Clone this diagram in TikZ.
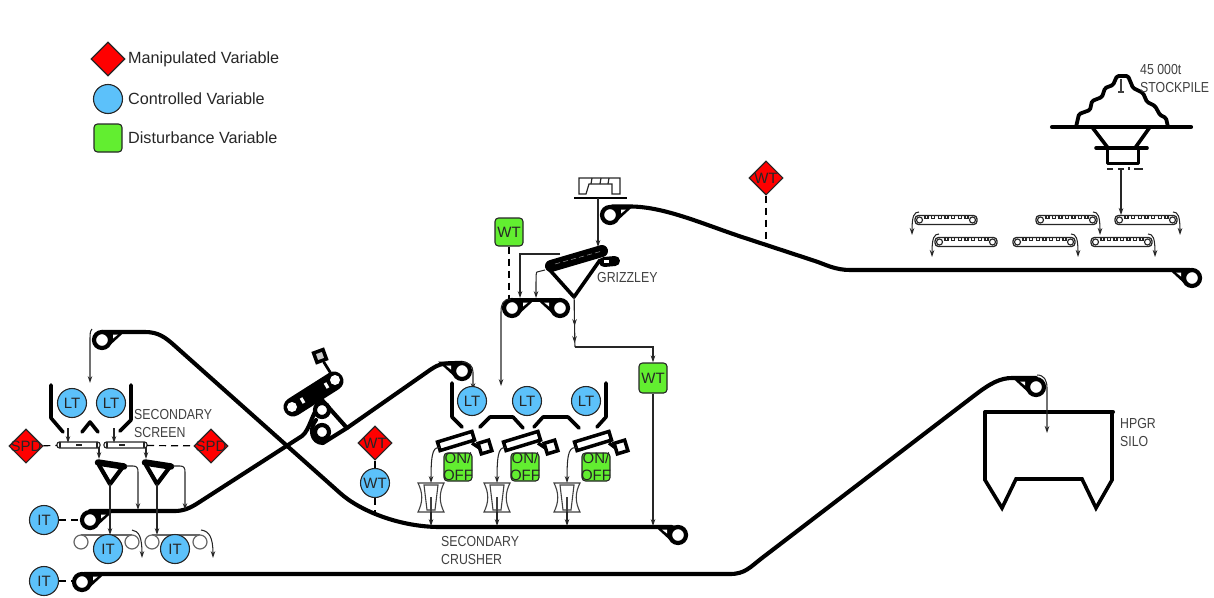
\documentclass[tikz,border=0pt]{standalone}
\usepackage{fontspec}
\setmainfont{Liberation Sans}
\newfontfamily\isofont[FakeStretch=0.85]{Liberation Sans}
\usetikzlibrary{shapes.geometric,arrows.meta,calc}
\definecolor{mvred}{HTML}{FF0000}
\definecolor{cvblue}{HTML}{5CC1FA}
\definecolor{dvgreen}{HTML}{62EE30}
\definecolor{isogray}{HTML}{404040}
\newcommand\dtext[1]{\makebox[0pt]{\raisebox{-0.36em}[0pt][0pt]{#1}}}
\tikzset{
  x=1pt,y=-1pt,
  base/.style={draw=black!85,line width=1.1pt,inner sep=0pt,font=\fontsize{15}{17}\selectfont,text=black!85},
  mvnode/.style={base,diamond,fill=mvred,minimum width=34pt,minimum height=34pt},
  cvnode/.style={base,circle,fill=cvblue,minimum size=29pt},
  dvnode/.style={base,rectangle,rounded corners=3.5pt,fill=dvgreen,minimum width=28pt,minimum height=28pt,align=center,inner ysep=-3.5pt,inner xsep=-2pt},
  legendtext/.style={inner sep=0pt,anchor=west,font=\fontsize{16.2}{17}\selectfont,text=black!85},
  isotext/.style={inner sep=0pt,anchor=west,align=left,font=\isofont\fontsize{14.5}{18}\selectfont,text=isogray},
  belt/.style={line width=4.1pt,line cap=round,line join=round,draw=black},
  chute/.style={line width=3.6pt,line cap=round,line join=round,draw=black},
  flow/.style={line width=1.05pt,draw=black!85,-{Stealth[length=7pt,width=4.6pt]}},
  plainflow/.style={line width=1.05pt,draw=black!85},
  signal/.style={line width=1.2pt,draw=black,dash pattern=on 7pt off 5pt},
  pulleynode/.style={circle,draw=black,fill=white,line width=4.2pt,minimum size=16pt,inner sep=0pt},
  thin outline/.style={line width=1.15pt,draw=black!85},
}
% name, x, y, direction of the tail
\newcommand\pulley[4]{%
  \fill[black] (#2,#3-9.5) -- (#2+#4*24,#3-9.5) -- (#2+#4*5,#3+8) -- cycle;
  \fill[white] (#2+#4*11,#3-5.5) -- (#2+#4*16,#3-5.5) -- (#2+#4*11,#3-1.5) -- cycle;
  \node[pulleynode] (#1) at (#2,#3) {};
}
% name, x1, x2, y, head side (+1 right, -1 left)
\newcommand\smallbelt[5]{%
  \draw[thin outline,rounded corners=3.5pt,line width=1.3pt] (#2,#4-4.5) rectangle (#3,#4+4.5);
  \foreach \k in {0,...,6} {
    \draw[thin outline,line width=1.2pt] ({#2+10+\k*(#3-#2-22)/6},#4-4.5) -- ++(0,3) -- ++(3,0) -- ++(0,-3);
  }
  \draw[thin outline,fill=white] (#2+4.5,#4) circle (3);
  \draw[thin outline,fill=white] (#3-4.5,#4) circle (3);
  \ifnum#5>0
    \coordinate (#1) at (#3+3,#4+15);
    \draw[flow] (#3-4,#4-8) .. controls (#3+1,#4-8) and (#3+3,#4-4) .. (#1);
  \else
    \coordinate (#1) at (#2-3,#4+15);
    \draw[flow] (#2+4,#4-8) .. controls (#2-1,#4-8) and (#2-3,#4-4) .. (#1);
  \fi
}
% x of feeder centre, feeder box centre, crusher centre
\newcommand\feeder[3]{%
  \node[draw=black,line width=3.5pt,fill=white,minimum width=36pt,minimum height=9pt,inner sep=0pt,rotate=17] at (#1,441) {};
  \draw[black,line width=3.5pt] (#1+16,443) -- (#2-4,449);
  \node[draw=black,line width=3.5pt,fill=white,minimum size=11pt,inner sep=0pt,rotate=17] at (#2,447) {};
  \draw[flow] (#1-16,447) .. controls (#3+3,448) and (#3,449) .. (#3,483);
  \draw[line width=1.1pt,draw=black!75] (#3-13,483) -- (#3+13,483) .. controls (#3+8,493) and (#3+8,502) .. (#3+13,512) -- (#3-13,512) .. controls (#3-8,502) and (#3-8,493) .. (#3-13,483) -- cycle;
  \draw[line width=1.1pt,draw=black!75] (#3-7,485) -- (#3+7,485) -- (#3+4,510) -- (#3-4,510) -- cycle;
  \draw[line width=1.1pt,draw=black!75] (#3,497) -- (#3,512);
  \draw[flow] (#3,512) -- (#3,526);
}
\begin{document}
\begin{tikzpicture}
\useasboundingbox (0,0) rectangle (1214,597);

% ---- belts
\draw[belt] (612,206.5) -- (630,206.5) .. controls (665,206.5) and (705,225) .. (745,238) -- (815,261) .. controls (825,264.3) and (835,270) .. (850,270) -- (1190,270);
\draw[belt] (102,332) -- (145,332) .. controls (158,332) and (165,337) .. (175,346) -- (340,493) .. controls (360,511) and (400,527) .. (440,527) -- (672,527);
\draw[belt] (90,511) -- (175,511) .. controls (183,511) and (190,508.2) .. (198,503) -- (302,436) .. controls (310,430) and (312,412) .. (322,401);
\draw[belt] (322,400) -- (347,428) -- (323,443) .. controls (311,443) and (309,428) .. (316,420);
\draw[belt] (347,428) -- (430,370) .. controls (440,363) and (445,363) .. (462,363);
\draw[belt] (84,574) -- (730,574) .. controls (745,574) and (750,567.2) .. (762,558) -- (975,395) .. controls (990,383.5) and (1000,378) .. (1012,378) -- (1036,378);
\draw[belt] (512,300) -- (560,300);

% ---- pulleys
\pulley{headtop}{610}{215}{1}
\pulley{tailtop}{1192}{278}{-1}
\pulley{headsec}{102}{340}{1}
\pulley{tailsec}{678}{535}{-1}
\pulley{headscr}{90}{520}{1}
\pulley{headlow}{82}{582}{1}
\pulley{tailsilo}{1036}{387}{-1}
\pulley{crushhead}{462}{371}{-1}
\pulley{griza}{512}{308}{1}
\pulley{grizb}{560}{308}{-1}
\node[pulleynode,minimum size=14pt] (trippera) at (322,410) {};
\node[pulleynode,minimum size=14pt] (tripperb) at (322,432) {};

% ---- tripper car
\draw[black,line width=19pt,line cap=round] (293,407) -- (334,381);
\node[circle,fill=white,minimum size=10pt,inner sep=0pt] (carA) at (292,407) {};
\node[circle,fill=white,minimum size=10pt,inner sep=0pt] (carB) at (335,380) {};
\draw[white,line width=3pt] (301,398) -- (304,403);
\draw[white,line width=3pt] (325,383) -- (328,388);
\node[draw=black,line width=3.5pt,fill=white!80!black,minimum size=10pt,inner sep=0pt,rotate=20] (carbox) at (320,356) {};
\draw[black,line width=2.8pt] (carbox) -- (carB);

% ---- stockpile
\draw[belt] (1052,127) -- (1191,127);
\draw[chute,line width=3.8pt,rounded corners=1.5pt] (1076,127) -- (1079,114) -- (1090,110) -- (1092,101) -- (1102,97) -- (1105,88) -- (1113,85) -- (1117,76) -- (1128,76) -- (1133,88) -- (1143,93) -- (1147,102) -- (1155,106) -- (1160,115) -- (1166,118) -- (1168,127);
\draw[chute] (1092,127) -- (1108,148);
\draw[chute] (1150,127) -- (1135,148);
\draw[chute] (1096,148) -- (1147,148);
\draw[chute,line width=3pt,line cap=butt] (1107,148) -- (1107,163) -- (1138,163) -- (1138,148);
\draw[line width=2pt,black!85] (1107,169) -- (1113,169) (1118,169) -- (1124,169) (1134,169) -- (1143,169) (1129,167) -- (1129,170);
\draw[line width=1.1pt,black!75] (1121,79) -- (1121,92) (1118,92) -- (1124,92);
\coordinate (stockout) at (1121,168);
\coordinate (stockin) at (1121,215);
\draw[flow] (stockout) -- (stockin);
\node[isotext] (stocka) at (1140,70) {45 000t};
\node[isotext] (stockb) at (1140,88) {STOCKPILE};

% ---- stockpile reclaim belts
\smallbelt{sba}{915}{977}{220}{-1}
\smallbelt{sbb}{935}{997}{242}{-1}
\smallbelt{sbc}{1036}{1097}{220}{1}
\smallbelt{sbd}{1013}{1075}{242}{1}
\smallbelt{sbe}{1115}{1177}{220}{1}
\smallbelt{sbf}{1091}{1152}{242}{1}

% ---- HPGR silo
\draw[chute,line join=miter] (985,412) -- (985,480) -- (1002,508) -- (1016,479) -- (1082,479) -- (1096,508) -- (1112,480) -- (1112,412);
\draw[chute,line width=4pt] (985,412) -- (1113,412);
\coordinate (siloin) at (1047,433);
\draw[flow] (1037,375) .. controls (1044,375) and (1047,380) .. (1047,388) -- (siloin);
\node[isotext] (silotext) at (1120,433) {HPGR\\SILO};

% ---- grizzly
\draw[line width=1.2pt,black!85] (579,194) -- (579,178) -- (620,178) -- (620,194) -- (612,194) -- (612,184) -- (589,184) -- (586,194) -- cycle;
\draw[line width=1.2pt,black!85] (591,184) -- (592,178) (600,184) -- (601,178) (608,184) -- (609,178);
\draw[line width=1.4pt,black] (574,198) -- (627,198);
\coordinate (grizin) at (598,247);
\draw[flow] (598,198) -- (grizin);
\draw[chute] (548,268) -- (574,297) -- (600,260);
\draw[black,line width=12pt,line cap=round] (551,266) -- (602,251);
\draw[black,line width=10pt,line cap=round] (604,262) -- (615,261);
\draw[white,line width=3pt] (604,261) -- (609,261);
\foreach \k in {0,...,5} \draw[white!60!black,line width=0.5pt] ({555+\k*8},{264-\k*2.2}) -- ++(5,-1.4);
\node[isotext] (grizlab) at (597,278) {GRIZZLEY};
\coordinate (grizapex) at (574,297);
\coordinate (grizdrop) at (575,347);
\draw[plainflow] (grizapex) -- (grizdrop);
\draw[flow] (574.5,300) -- (574.5,326);
\draw[flow] (574.5,326) -- (574.5,343);
\draw[flow] (560,254) -- (520,254) -- (520,298);
\draw[flow] (545,270) -- (537,272) .. controls (536,273) .. (536,298);
\coordinate (crushfeed) at (501,386);
\draw[flow] (511,299) .. controls (503,299) and (501,304) .. (501,312) -- (crushfeed);

% ---- crusher bins and feeders
\draw[chute] (452,383) -- (452,417) -- (462,427);
\draw[chute] (606,383) -- (606,417) -- (597,427);
\draw[chute] (480,427) -- (490,417) -- (513,417) -- (523,428);
\draw[chute] (534,427) -- (543,417) -- (568,417) -- (579,428);
\draw[flow] (462,362) .. controls (469,362) and (473,366) .. (473,372) -- (473,390);
\feeder{456}{485}{431}
\feeder{522}{551}{497}
\feeder{593}{621}{567}

% ---- secondary screen
\draw[chute] (51,385) -- (51,418) -- (63,432);
\draw[chute] (131,385) -- (131,420) -- (120,431);
\draw[chute] (82,432) -- (90,422) -- (98,432);
\coordinate (screenfeed) at (90,383);
\draw[flow] (92,329) .. controls (90,331) and (90,335) .. (90,340) -- (screenfeed);
\draw[thin outline,rounded corners=2.5pt,fill=white] (57,442) rectangle (100,448);
\draw[thin outline,rounded corners=2.5pt,fill=white] (104,442) rectangle (147,448);
\draw[thin outline] (60,442) -- (60,448) (97,442) -- (97,448) (107,442) -- (107,448) (144,442) -- (144,448);
\draw[thin outline] (76,445) -- (82,445) (119,445) -- (125,445);
\coordinate (scra) at (57,445.5);
\coordinate (scrb) at (147,445.5);
\draw[flow] (68,428) -- (68,443);
\draw[flow] (114,428) -- (114,443);
\draw[flow] (99,447) -- (99,459);
\draw[flow] (146,447) -- (146,459);
\foreach \sx in {0,47} {
  \draw[chute,line width=4.2pt] (\sx+99,465) -- (\sx+110,484) -- (\sx+122,468);
  \draw[black,line width=6.5pt,line cap=round] (\sx+98,462.5) -- (\sx+124,466.5);
  \draw[flow] (\sx+110,484) -- (\sx+110,535);
  \draw[flow] (\sx+126,466) -- (\sx+133,466) .. controls (\sx+137,466) and (\sx+138,468) .. (\sx+138,472) -- (\sx+138,510);
}
\node[isotext] (sslab) at (134,415) {SECONDARY};
\node[isotext] (sslabb) at (134,433) {SCREEN};

% ---- belts below the screen
\foreach \sx/\sa/\sb in {0/81/132,71/152/200} {
  \draw[line width=1.2pt,black!60] (\sa,535) -- (\sb,535);
  \draw[line width=1.2pt,black!60,fill=white] (\sa,542) circle (7);
  \draw[line width=1.2pt,black!60,fill=white] (\sb,542) circle (7);
}
\draw[flow] (132,530) .. controls (139,531) and (142,537) .. (142,558);
\draw[flow] (201,530) .. controls (209,531) and (213,537) .. (213,558);

% ---- crusher label
\node[isotext] (sclab) at (441,550) {SECONDARY\\CRUSHER};

% ---- legend
\node[mvnode] (lgm) at (108,59) {};
\node[cvnode] (lgc) at (108,99) {};
\node[dvnode] (lgd) at (108,138) {};
\node[legendtext] (lgmt) at (128,59) {Manipulated Variable};
\node[legendtext] (lgct) at (128,99) {Controlled Variable};
\node[legendtext] (lgdt) at (128,138) {Disturbance Variable};

% ---- instruments
\node[cvnode] (lta) at (72,403) {LT};
\node[cvnode] (ltb) at (111,403) {LT};
\node[mvnode] (spda) at (26,446) {\dtext{SPD}};
\node[mvnode] (spdb) at (211,446) {\dtext{SPD}};
\node[cvnode] (ita) at (44,520) {IT};
\node[cvnode] (itb) at (44,581) {IT};
\node[cvnode] (itc) at (108,549) {IT};
\node[cvnode] (itd) at (175,549) {IT};
\node[cvnode] (ltc) at (472,401) {LT};
\node[cvnode] (ltd) at (527,401) {LT};
\node[cvnode] (lte) at (586,401) {LT};
\node[mvnode] (wtdia) at (375,443) {\dtext{WT}};
\node[cvnode] (wtcir) at (375,483) {WT};
\node[dvnode] (onoffa) at (458,467) {ON/\\OFF};
\node[dvnode] (onoffb) at (525,467) {ON/\\OFF};
\node[dvnode] (onoffc) at (596,467) {ON/\\OFF};
\node[dvnode,minimum height=30pt] (wtg) at (653,378) {WT};
\node[dvnode] (wtga) at (509,232) {WT};
\node[mvnode] (wtdib) at (766,178) {\dtext{WT}};

% ---- signal and flow connectors
\coordinate (topbelt) at (766,245);
\coordinate (secbelt) at (375,513);
\coordinate (grizbelt) at (509,299);
\coordinate (itaend) at (83,520);
\coordinate (itbend) at (76,581);
\draw[signal] (spda) -- (scra);
\draw[signal] (scrb) -- (spdb);
\draw[signal] (ita) -- (itaend);
\draw[signal] (itb) -- (itbend);
\draw[signal] (wtdib) -- (topbelt);
\draw[signal] (wtga) -- (grizbelt);
\draw[signal] (wtcir) -- (secbelt);
\draw[line width=1.2pt,black] (wtdia) -- (wtcir);
\draw[flow] (grizdrop) -- (653,347) -- (wtg);
\draw[flow] (wtg) -- (653,526);
\end{tikzpicture}
\end{document}
